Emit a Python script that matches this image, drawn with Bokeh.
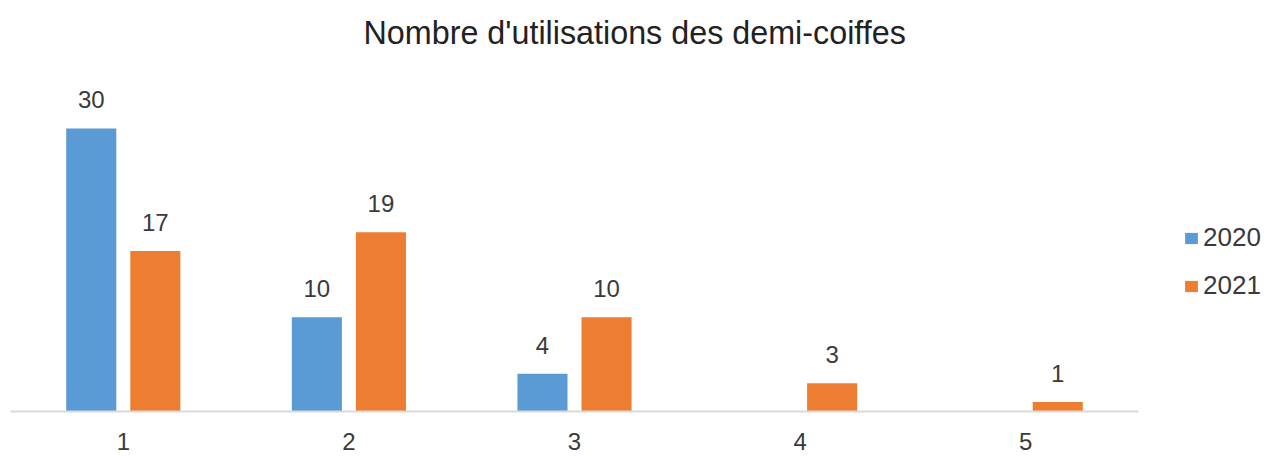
from bokeh.plotting import figure
from bokeh.models import ColumnDataSource, FactorRange, Range1d, Legend, LegendItem, LabelSet
from bokeh.transform import dodge
from bokeh.core.properties import value
from bokeh.embed import file_html
from bokeh.resources import INLINE

categories = ["1", "2", "3", "4", "5"]
series_names = ["2020", "2021"]
values_2020 = [30, 10, 4, 0, 0]
values_2021 = [17, 19, 10, 3, 1]
title_text = "Nombre d'utilisations des demi-coiffes"

FONT = "Liberation Sans"
C2020 = "#5B9BD5"
C2021 = "#ED7D31"
TXT = "#3a3a3a"

p = figure(frame_width=1128, frame_height=351,
           x_range=FactorRange(*categories), y_range=Range1d(0, 37.2),
           output_backend="svg", toolbar_location=None,
           y_axis_location=None,
           min_border_left=10, min_border_right=131,
           min_border_top=60, min_border_bottom=45)

p.title.text = title_text
p.title.align = "left"
p.title.offset = 353
p.title.text_font = FONT
p.title.text_font_size = "32.3px"
p.title.text_font_style = "normal"
p.title.text_color = "#222222"
p.title.standoff = 20

p.xgrid.visible = False
p.ygrid.visible = False
p.outline_line_color = None

src = ColumnDataSource(dict(cat=categories, v2020=values_2020, v2021=values_2021))
r1 = p.vbar(x=dodge("cat", -0.142, range=p.x_range), top="v2020", width=0.222,
            source=src, fill_color=C2020, line_color=None)
r2 = p.vbar(x=dodge("cat", 0.142, range=p.x_range), top="v2021", width=0.222,
            source=src, fill_color=C2021, line_color=None)

for vals, off in ((values_2020, -0.142), (values_2021, 0.142)):
    cats = [c for c, v in zip(categories, vals) if v]
    vs = [v for v in vals if v]
    lsrc = ColumnDataSource(dict(cat=cats, v=vs, t=[str(v) for v in vs]))
    p.add_layout(LabelSet(x=dodge("cat", off, range=p.x_range), y="v", text="t", source=lsrc,
                          text_align="center", text_baseline="alphabetic", y_offset=20,
                          text_font=value(FONT), text_font_size=value("24px"),
                          text_color=TXT))

ax = p.xaxis[0]
ax.axis_line_color = "#d9d9d9"
ax.axis_line_width = 2
ax.major_tick_line_color = None
ax.minor_tick_line_color = None
ax.major_label_standoff = 15
ax.major_label_text_font = FONT
ax.major_label_text_font_size = "24px"
ax.major_label_text_line_height = 1.0
ax.major_label_text_color = TXT

legend = Legend(items=[LegendItem(label=series_names[0], renderers=[r1]),
                       LegendItem(label=series_names[1], renderers=[r2])],
                location=(45, 110), orientation="vertical",
                glyph_width=16, glyph_height=14, label_standoff=4,
                label_height=30, spacing=17, padding=0, margin=0,
                border_line_color=None, background_fill_alpha=0,
                label_text_font=FONT, label_text_font_size="26px",
                label_text_color=TXT)
p.add_layout(legend, "right")

open("out.html", "w").write(file_html(p, INLINE))
